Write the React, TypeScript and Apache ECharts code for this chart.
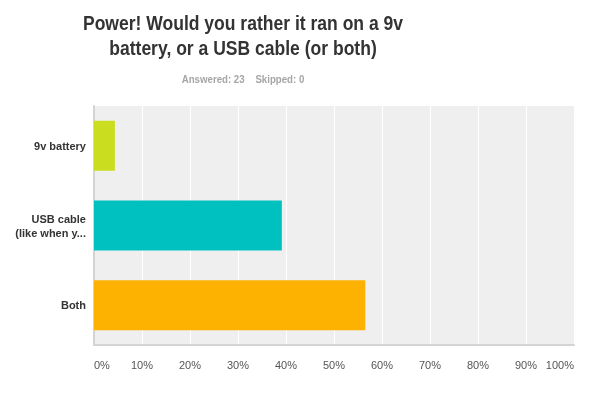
import React, { useEffect, useRef } from "react";
import * as echarts from "echarts";

const categories = ["9v battery", "USB cable\n(like when y...", "Both"];
const values = [4.35, 39.13, 56.52];
const colors = ["#cadd1f", "#00c1c0", "#fdb100"];
const xTicks = [0, 10, 20, 30, 40, 50, 60, 70, 80, 90, 100];
const titleLines = ["Power! Would you rather it ran on a 9v", "battery, or a USB cable (or both)"];
const subtitle = "Answered: 23    Skipped: 0";

export default function App() {
  const ref = useRef<HTMLDivElement>(null);
  useEffect(() => {
    const chart = echarts.init(ref.current!, null, { renderer: "svg" });
    chart.setOption({
      animation: false,
      textStyle: { fontFamily: "Liberation Sans, Arial, sans-serif" },
      grid: {
        left: 94,
        right: 21,
        top: 106,
        bottom: 54,
        show: true,
        backgroundColor: "#efefef",
        borderWidth: 0,
        containLabel: false,
      },
      graphic: [
        {
          type: "text",
          x: 243,
          y: 11,
          scaleX: 0.877,
          style: {
            text: titleLines.join("\n"),
            fontSize: 20,
            lineHeight: 25,
            fontWeight: "bold",
            fill: "#333333",
            textAlign: "center",
            textVerticalAlign: "top",
            fontFamily: "Liberation Sans, Arial, sans-serif",
          },
        },
        {
          type: "text",
          x: 243,
          y: 79,
          scaleX: 0.88,
          style: {
            text: subtitle,
            fontSize: 11,
            fontWeight: "bold",
            fill: "#a6a6a6",
            textAlign: "center",
            textVerticalAlign: "middle",
            fontFamily: "Liberation Sans, Arial, sans-serif",
          },
        },
      ],
      xAxis: {
        type: "value",
        min: 0,
        max: 100,
        interval: 10,
        axisLine: { show: true, lineStyle: { color: "#d4d4d4", width: 2 } },
        axisTick: { show: false },
        splitLine: { show: true, lineStyle: { color: "#ffffff", width: 1 } },
        axisLabel: {
          formatter: (v: number) => (xTicks.includes(v) ? v + "%" : ""),
          color: "#555555",
          fontSize: 11,
          margin: 14,
          alignMinLabel: "left",
          alignMaxLabel: "right",
        },
      },
      yAxis: {
        type: "category",
        data: categories,
        inverse: true,
        axisLine: { show: true, lineStyle: { color: "#d4d4d4", width: 2 } },
        axisTick: { show: false },
        axisLabel: {
          color: "#333333",
          fontSize: 11,
          fontWeight: "bold",
          margin: 8,
          lineHeight: 14,
        },
      },
      series: [
        {
          type: "bar",
          data: values.map((v, i) => ({ value: v, itemStyle: { color: colors[i] } })),
          barWidth: 50,
        },
      ],
    });
    return () => chart.dispose();
  }, []);
  return (
    <div
      ref={ref}
      style={{ position: "fixed", left: 0, top: 0, width: 595, height: 399 }}
    />
  );
}
